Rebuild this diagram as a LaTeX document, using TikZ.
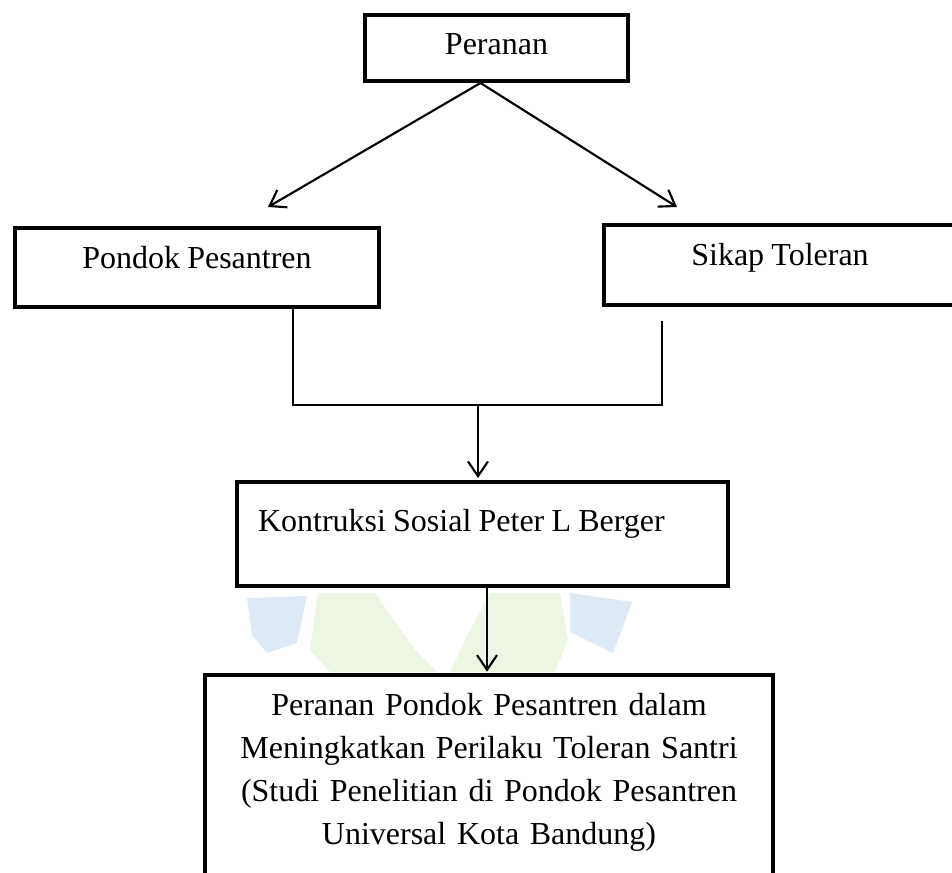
\documentclass[tikz,border=0pt]{standalone}
\usepackage{fontspec}
\setmainfont[WordSpace=0.9]{Liberation Serif}
\usetikzlibrary{arrows.meta}

\definecolor{wmblue}{RGB}{221,234,246}
\definecolor{wmgreen}{RGB}{237,245,227}

\begin{document}
\begin{tikzpicture}[x=0.75pt, y=-0.75pt,
    >={Straight Barb[length=11pt,width=15pt]},
    kotak/.style={draw, line width=3pt, inner xsep=0pt, inner ysep=0pt,
                  font=\fontsize{24pt}{32.25pt}\selectfont},
    garis/.style={line width=1.6pt}]

  \clip (0,0) rectangle (952,873);

  %--- Faint logo in the background
  \fill[wmblue] (247,598) -- (307,596) -- (297,643) -- (267,653) -- (252,635) -- cycle;
  \fill[wmblue] (570,593) -- (632,602) -- (613,653) -- (570,632) -- cycle;
  \fill[wmgreen] (318,593) -- (375,593) -- (415,650) -- (437,672) -- (330,672) -- (310,650) -- cycle;
  \fill[wmgreen] (490,593) -- (560,593) -- (568,640) -- (555,672) -- (450,672) -- (470,630) -- cycle;

  %--- Top box
  \node[kotak, minimum width=197.25pt, text height=30pt, text depth=19.5pt]
    (peranan) at (496.5,48) {Peranan};

  %--- Second row
  \node[kotak, minimum width=273pt, text height=30.75pt, text depth=28.5pt]
    (pondok) at (197,267.5) {Pondok Pesantren};
  \node[kotak, minimum width=264pt, text height=30.75pt, text depth=29.25pt]
    (sikap) at (780,265) {Sikap Toleran};

  %--- Theory box
  \node[kotak, minimum width=368.25pt, text height=36.75pt, text depth=41.25pt]
    (kontruksi) at (482.5,534) {\makebox[336.75pt][l]{Kontruksi Sosial Peter L Berger}};

  %--- Result box (runs past the bottom edge)
  \node[kotak, minimum width=426pt, text width=400pt, align=center,
        text height=30pt, text depth=157.5pt]
    (hasil) at (489,800) {Peranan Pondok Pesantren dalam\\
      Meningkatkan Perilaku Toleran Santri\\
      (Studi Penelitian di Pondok Pesantren\\
      Universal Kota Bandung)};

  %--- Arrows from the top box
  \coordinate (kiri) at (268,207);
  \coordinate (kanan) at (677,207);
  \draw[garis,->] ([xshift=-12pt]peranan.south) -- (kiri);
  \draw[garis,->] ([xshift=-12pt]peranan.south) -- (kanan);

  %--- Joining lines
  \coordinate (jkiri) at (293,405);
  \coordinate (jkanan) at (662,405);
  \coordinate (jtengah) at (478,405);
  \draw[garis] (pondok.south -| jkiri) -- (jkiri) -- (jkanan)
    -- ([yshift=-10.5pt]sikap.south -| jkanan);
  \draw[garis,->,shorten >=1.5pt] (jtengah) -- (jtengah |- kontruksi.north);

  %--- Down to the result
  \draw[garis,->,shorten >=1pt] ([xshift=3.4pt]kontruksi.south)
    -- ([xshift=3.4pt]kontruksi.south |- hasil.north);

\end{tikzpicture}
\end{document}
